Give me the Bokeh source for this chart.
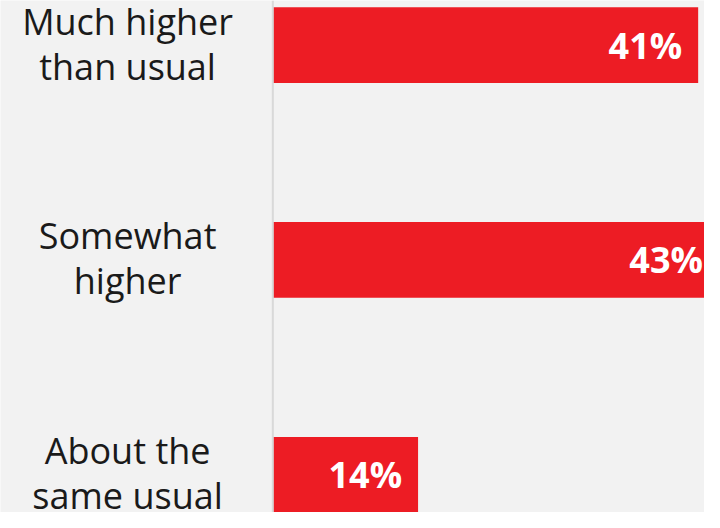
from bokeh.plotting import figure
from bokeh.models import Range1d, Span, ColumnDataSource
from bokeh.core.properties import value
from bokeh.embed import file_html
from bokeh.resources import INLINE

categories = ["Much higher\nthan usual", "Somewhat\nhigher", "About the\nsame usual"]
values = [41, 43, 14]
value_labels = ["41%", "43%", "14%"]

positions = list(range(len(categories)))
line1 = [c.split("\n")[0] for c in categories]
line2 = [c.split("\n")[1] for c in categories]

src = ColumnDataSource(dict(
    y=positions,
    v=values,
    lab=value_labels,
    l1=line1,
    l2=line2,
    lx=[-14.0] * len(categories),
))

p = figure(width=704, height=512, output_backend="svg", toolbar_location=None,
           x_range=Range1d(-26.25, 41.61), y_range=Range1d(2.176, -0.2076),
           min_border=0, min_border_left=0, min_border_right=0,
           min_border_top=0, min_border_bottom=0)
p.background_fill_color = "#f2f2f2"
p.border_fill_color = "#f2f2f2"
p.outline_line_color = None
p.grid.visible = False
p.xaxis.visible = False
p.yaxis.visible = False

p.hbar(y="y", left=0, right="v", height=0.352, source=src,
       fill_color="#ed1c24", line_color=None)

p.add_layout(Span(location=0, dimension="height", line_color="#d9d9d9", line_width=2))

p.text(x="v", y="y", text="lab", source=src, x_offset=-16,
       text_align="right", text_baseline="middle",
       text_font=value("Open Sans"), text_font_style="bold",
       text_font_size="36px", text_color="white")

p.text(x="lx", y="y", text="l1", source=src, y_offset=-24,
       text_align="center", text_baseline="alphabetic",
       text_font=value("Open Sans"), text_font_size="36px",
       text_color="#1a1a1a")
p.text(x="lx", y="y", text="l2", source=src, y_offset=21,
       text_align="center", text_baseline="alphabetic",
       text_font=value("Open Sans"), text_font_size="36px",
       text_color="#1a1a1a")

open("out.html", "w").write(file_html(p, INLINE))
